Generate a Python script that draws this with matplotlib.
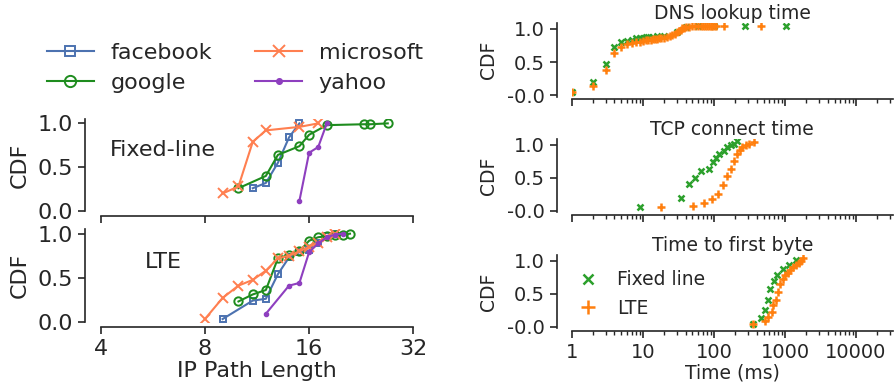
import matplotlib

matplotlib.use("Agg")
import matplotlib.pyplot as plt
from matplotlib.ticker import NullLocator, LogLocator, FixedLocator, FixedFormatter


# left: IP path length CDFs
FIXED_FACEBOOK_X = [11, 12, 13, 14, 15]
FIXED_FACEBOOK_Y = [0.26, 0.32, 0.55, 0.84, 1.0]
FIXED_GOOGLE_X = [10, 12, 13, 15, 16, 18, 23, 24, 27]
FIXED_GOOGLE_Y = [0.26, 0.40, 0.64, 0.74, 0.87, 0.98, 0.99, 0.99, 1.0]
FIXED_MICROSOFT_X = [9, 10, 11, 12, 15, 17]
FIXED_MICROSOFT_Y = [0.20, 0.28, 0.79, 0.92, 0.96, 1.0]
FIXED_YAHOO_X = [15, 16, 17, 18]
FIXED_YAHOO_Y = [0.115, 0.665, 0.73, 1.0]

LTE_FACEBOOK_X = [9, 11, 12, 13, 14, 15, 16, 17, 18, 19]
LTE_FACEBOOK_Y = [0.03, 0.24, 0.26, 0.54, 0.73, 0.79, 0.81, 0.89, 0.97, 1.0]
LTE_GOOGLE_X = [10, 11, 12, 13, 14, 15, 16, 17, 18, 19, 20, 21]
LTE_GOOGLE_Y = [0.23, 0.31, 0.36, 0.72, 0.76, 0.80, 0.92, 0.96, 0.97, 0.98, 0.99, 1.0]
LTE_MICROSOFT_X = [8, 9, 10, 11, 12, 13, 14, 15, 16, 17, 18, 19]
LTE_MICROSOFT_Y = [0.03, 0.27, 0.41, 0.475, 0.58, 0.72, 0.75, 0.80, 0.85, 0.90, 0.96, 1.0]
LTE_YAHOO_X = [12, 14, 15, 16, 17, 18, 19, 20]
LTE_YAHOO_Y = [0.09, 0.41, 0.44, 0.79, 0.89, 0.96, 0.99, 1.0]

PATH_TICKS = [4, 8, 16, 32]

# right: timing CDFs (ms)
DNS_FIXED_X = [1, 2, 3, 4, 5, 6, 7, 8, 9, 10, 11, 12, 14, 16, 20, 30, 40, 60, 100, 270, 1035]
DNS_FIXED_Y = [0.05, 0.20, 0.47, 0.72, 0.80, 0.82, 0.84, 0.86, 0.865, 0.87, 0.875, 0.88,
               0.885, 0.89, 0.90, 0.95, 1.03, 1.04, 1.045, 1.045, 1.045]
DNS_LTE_X = [1, 2, 3, 4, 5, 6, 7, 8, 9, 10, 11, 12, 13, 14, 15, 16, 17, 18, 20, 22, 24,
             26, 28, 30, 32, 34, 36, 38, 40, 45, 50, 55, 60, 65, 70, 75, 80, 85, 90, 95,
             100, 108, 140, 460]
DNS_LTE_Y = [0.05, 0.13, 0.38, 0.63, 0.72, 0.77, 0.79, 0.80, 0.81, 0.82, 0.83, 0.835,
             0.84, 0.845, 0.85, 0.855, 0.86, 0.865, 0.87, 0.88, 0.89, 0.91, 0.93, 0.95,
             0.97, 0.99, 1.01, 1.02, 1.03, 1.035, 1.04, 1.04, 1.04, 1.04, 1.04, 1.04,
             1.045, 1.045, 1.045, 1.045, 1.045, 1.045, 1.045, 1.045]

TCP_FIXED_X = [9.1, 34, 45, 55, 65, 85, 97, 108, 120, 137, 154, 172, 191, 213]
TCP_FIXED_Y = [0.056, 0.20, 0.41, 0.50, 0.60, 0.63, 0.74, 0.80, 0.86, 0.91, 0.96, 0.99, 1.01, 1.05]
TCP_LTE_X = [18.3, 51, 72, 95, 116, 135, 154, 175, 195, 213, 230, 250, 279, 316, 372]
TCP_LTE_Y = [0.05, 0.07, 0.12, 0.18, 0.26, 0.39, 0.52, 0.63, 0.76, 0.86, 0.92, 0.96, 0.99, 1.01, 1.04]

TTFB_FIXED_X = [352, 462, 526, 572, 624, 695, 774, 929, 1127, 1431]
TTFB_FIXED_Y = [0.04, 0.13, 0.25, 0.40, 0.57, 0.69, 0.78, 0.87, 0.93, 1.01]
TTFB_LTE_X = [359, 531, 572, 650, 687, 750, 807, 862, 929, 1003, 1090, 1178, 1282, 1431,
              1557, 1682, 1812]
TTFB_LTE_Y = [0.04, 0.08, 0.15, 0.23, 0.33, 0.41, 0.53, 0.64, 0.72, 0.78, 0.82, 0.86,
              0.91, 0.93, 0.96, 1.0, 1.04]

TIME_TICKS = [1, 10, 100, 1000, 10000]
CDF_TICKS = [0.0, 0.5, 1.0]
CDF_LABELS_LEFT = ["0.0", "0.5", "1.0"]
CDF_LABELS_RIGHT = ["-0.0", "0.5", "1.0"]

TEXT = "#262626"
SITE_STYLE = {
    "facebook": dict(color="#4c72b0", marker="s", mfc="none", ms=5, mew=1.4),
    "google": dict(color="#1e8c1e", marker="o", mfc="none", ms=6, mew=1.4),
    "microsoft": dict(color="#ff7f50", marker="x", ms=6.5, mew=1.4),
    "yahoo": dict(color="#8e3fbf", marker=".", ms=6),
}
FIXED_COLOR = "#2ca02c"
LTE_COLOR = "#ff7f0e"

plt.rcParams["text.color"] = TEXT
plt.rcParams["axes.labelcolor"] = TEXT
plt.rcParams["xtick.color"] = TEXT
plt.rcParams["ytick.color"] = TEXT
plt.rcParams["axes.edgecolor"] = TEXT

W, H = 895, 390
fig = plt.figure(figsize=(W / 100, H / 100), dpi=100)


def px_axes(left, top, right, bottom):
    return fig.add_axes([left / W, 1 - bottom / H, (right - left) / W, (bottom - top) / H])


def style_axes(ax, yoffset_pt, xoffset_pt, fontsize):
    for side in ("top", "right"):
        ax.spines[side].set_visible(False)
    ax.spines["left"].set_position(("outward", yoffset_pt))
    ax.spines["bottom"].set_position(("outward", xoffset_pt))
    ax.spines["left"].set_linewidth(1.2)
    ax.spines["bottom"].set_linewidth(1.2)
    ax.tick_params(which="major", length=5, width=1.2, labelsize=fontsize)
    ax.tick_params(which="minor", length=3, width=1.0)


# left column
ax_fixed = px_axes(100.7, 119, 413.3, 211)
ax_lte = px_axes(100.7, 229.3, 413.3, 321.7)

left_data = [
    (ax_fixed, "Fixed-line", (0.03, 0.66), [
        ("facebook", FIXED_FACEBOOK_X, FIXED_FACEBOOK_Y),
        ("google", FIXED_GOOGLE_X, FIXED_GOOGLE_Y),
        ("microsoft", FIXED_MICROSOFT_X, FIXED_MICROSOFT_Y),
        ("yahoo", FIXED_YAHOO_X, FIXED_YAHOO_Y),
    ]),
    (ax_lte, "LTE", (0.14, 0.65), [
        ("facebook", LTE_FACEBOOK_X, LTE_FACEBOOK_Y),
        ("google", LTE_GOOGLE_X, LTE_GOOGLE_Y),
        ("microsoft", LTE_MICROSOFT_X, LTE_MICROSOFT_Y),
        ("yahoo", LTE_YAHOO_X, LTE_YAHOO_Y),
    ]),
]

for ax, name, pos, series in left_data:
    for site, xs, ys in series:
        ax.plot(xs, ys, label=site, lw=1.5, **SITE_STYLE[site])
    ax.set_xscale("log", base=2)
    ax.set_xlim(4, 32)
    ax.set_ylim(0, 1.05)
    ax.xaxis.set_major_locator(FixedLocator(PATH_TICKS))
    ax.xaxis.set_major_formatter(FixedFormatter([str(t) for t in PATH_TICKS]))
    ax.xaxis.set_minor_locator(NullLocator())
    ax.set_yticks(CDF_TICKS)
    ax.set_yticklabels(CDF_LABELS_LEFT)
    ax.set_ylabel("CDF", fontsize=16, labelpad=6)
    ax.text(pos[0], pos[1], name, transform=ax.transAxes, fontsize=16, va="center")
    style_axes(ax, 11.3, 3.6, 16)

ax_fixed.tick_params(axis="x", labelbottom=False)
ax_lte.set_xlabel("IP Path Length", fontsize=16, labelpad=2)

handles, labels = ax_fixed.get_legend_handles_labels()
fig.legend(handles, labels, ncol=2, loc="upper left",
           bbox_to_anchor=(27 / W, 1 - 23 / H), frameon=False, fontsize=16,
           markerscale=1.35, handlelength=2.1, handletextpad=0.75,
           columnspacing=1.95, labelspacing=0.45)

# right column
ax_dns = px_axes(571.7, 23.3, 893, 96.7)
ax_tcp = px_axes(571.7, 139, 893, 212.4)
ax_ttfb = px_axes(571.7, 255, 893, 328.4)

right_data = [
    (ax_dns, "DNS lookup time", DNS_FIXED_X, DNS_FIXED_Y, DNS_LTE_X, DNS_LTE_Y),
    (ax_tcp, "TCP connect time", TCP_FIXED_X, TCP_FIXED_Y, TCP_LTE_X, TCP_LTE_Y),
    (ax_ttfb, "Time to first byte", TTFB_FIXED_X, TTFB_FIXED_Y, TTFB_LTE_X, TTFB_LTE_Y),
]

for ax, title, fx, fy, lx, ly in right_data:
    ax.plot(fx, fy, ls="none", marker="x", ms=4.5, mew=1.8, color=FIXED_COLOR, label="Fixed line")
    ax.plot(lx, ly, ls="none", marker="+", ms=6, mew=1.8, color=LTE_COLOR, label="LTE")
    ax.set_xscale("log")
    ax.set_xlim(1, 10 ** 4.52)
    ax.set_ylim(-0.025, 1.086)
    ax.xaxis.set_major_locator(FixedLocator(TIME_TICKS))
    ax.xaxis.set_minor_locator(LogLocator(base=10, subs=range(2, 10)))
    ax.set_yticks(CDF_TICKS)
    ax.set_yticklabels(CDF_LABELS_RIGHT)
    ax.set_ylabel("CDF", fontsize=13.5, labelpad=7)
    ax.set_title(title, fontsize=13.5, pad=2)
    style_axes(ax, 10.6, 1.8, 14)
    if ax is not ax_ttfb:
        ax.tick_params(axis="x", which="both", labelbottom=False)

ax_ttfb.xaxis.set_major_formatter(FixedFormatter([str(t) for t in TIME_TICKS]))
ax_ttfb.set_xlabel("Time (ms)", fontsize=13.5, labelpad=1)
ax_ttfb.legend(loc="upper left", bbox_to_anchor=(-0.045, 1.02), frameon=False,
               fontsize=13.5, markerscale=1.6, handlelength=1.5, labelspacing=0.5)

fig.savefig("out.png", dpi=100)
